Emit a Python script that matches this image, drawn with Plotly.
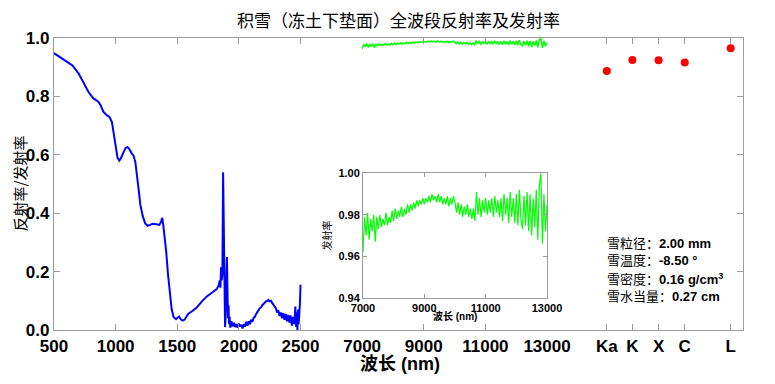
import plotly.graph_objects as go

# ---------------- data ----------------
vis_wl = [500, 550, 600, 650, 700, 740, 760, 770, 780, 820, 860, 880, 900, 930, 950, 970, 985,
          1000, 1015, 1030, 1045, 1060, 1080, 1095, 1110, 1130, 1145, 1160, 1175, 1190, 1200,
          1220, 1240, 1260, 1280, 1300, 1330, 1355, 1370, 1378, 1386, 1395, 1410, 1425, 1440,
          1455, 1470, 1490, 1505, 1515, 1530, 1545, 1560, 1575, 1590, 1620, 1660, 1700, 1740,
          1770, 1800, 1820, 1835, 1845, 1850, 1855, 1860, 1866, 1872, 1878, 1883, 1888, 1893,
          1898, 1903, 1908, 1912, 1916, 1920, 1925, 1930, 1940, 1950, 1960, 1970, 1980, 1990,
          2000, 2010, 2020, 2030, 2040, 2050, 2060, 2070, 2080, 2090, 2100, 2110, 2120, 2130,
          2140, 2150, 2160, 2170, 2180, 2190, 2200, 2210, 2220, 2230, 2240, 2250, 2260, 2270,
          2280, 2290, 2300, 2310, 2320, 2330, 2340, 2350, 2360, 2370, 2380, 2390, 2400, 2410,
          2420, 2430, 2440, 2450, 2458, 2465, 2470, 2475, 2480, 2485, 2490, 2495, 2500]
vis_refl = [0.948, 0.935, 0.922, 0.906, 0.878, 0.845, 0.826, 0.820, 0.815, 0.793, 0.782, 0.768,
            0.748, 0.735, 0.730, 0.712, 0.670, 0.620, 0.590, 0.580, 0.590, 0.605, 0.623, 0.627,
            0.620, 0.605, 0.598, 0.575, 0.530, 0.470, 0.430, 0.390, 0.365, 0.357, 0.360, 0.364,
            0.362, 0.360, 0.372, 0.384, 0.362, 0.330, 0.270, 0.190, 0.118, 0.070, 0.045, 0.037,
            0.043, 0.046, 0.036, 0.032, 0.036, 0.048, 0.056, 0.064, 0.078, 0.098, 0.115, 0.124,
            0.133, 0.140, 0.152, 0.170, 0.145, 0.215, 0.170, 0.190, 0.540, 0.300, 0.040, 0.010,
            0.050, 0.120, 0.250, 0.120, 0.040, 0.085, 0.020, 0.045, 0.008, 0.030, 0.012, 0.025,
            0.010, 0.020, 0.008, 0.022, 0.012, 0.018, 0.005, 0.020, 0.012, 0.028, 0.015, 0.030,
            0.020, 0.035, 0.028, 0.042, 0.045, 0.055, 0.060, 0.068, 0.075, 0.078, 0.085, 0.090,
            0.092, 0.098, 0.100, 0.103, 0.098, 0.100, 0.093, 0.088, 0.080, 0.075, 0.060, 0.068,
            0.048, 0.060, 0.040, 0.058, 0.035, 0.055, 0.030, 0.052, 0.025, 0.050, 0.015, 0.045,
            0.020, 0.080, 0.010, 0.060, 0.000, 0.070, 0.020, 0.050, 0.090, 0.155]

tir_wl = list(range(7000, 13001, 50))
tir_emis = [0.962, 0.979, 0.970, 0.981, 0.968, 0.978, 0.972, 0.980, 0.967, 0.979, 0.973,
            0.980, 0.974, 0.978, 0.975, 0.981, 0.975, 0.979, 0.976, 0.982, 0.977,
            0.983, 0.978, 0.982, 0.979, 0.984, 0.979, 0.983, 0.980, 0.985, 0.981,
            0.985, 0.982, 0.986, 0.983, 0.987, 0.984, 0.987, 0.985, 0.988, 0.985,
            0.988, 0.986, 0.989, 0.986, 0.990, 0.987, 0.989, 0.986, 0.990, 0.986,
            0.989, 0.985, 0.988, 0.985, 0.989, 0.984, 0.988, 0.985, 0.989, 0.986,
            0.981, 0.986, 0.980, 0.985, 0.979, 0.984, 0.980, 0.985, 0.979, 0.983,
            0.978, 0.983, 0.977, 0.991, 0.980, 0.988, 0.979, 0.987, 0.981, 0.988,
            0.980, 0.987, 0.981, 0.988, 0.979, 0.989, 0.981, 0.987, 0.979, 0.988,
            0.977, 0.990, 0.980, 0.988, 0.976, 0.991, 0.979, 0.988, 0.976, 0.990,
            0.975, 0.992, 0.978, 0.973, 0.989, 0.975, 0.991, 0.972, 0.990, 0.970,
            0.988, 0.974, 0.992, 0.968, 0.994, 1.000, 0.966, 0.990, 0.972, 0.985]

mw_bands = ["Ka", "K", "X", "C", "L"]
mw_emis = [0.887, 0.925, 0.924, 0.916, 0.965]

vis_ticks = [500, 1000, 1500, 2000, 2500]
tir_ticks = [7000, 9000, 11000, 13000]
y_ticks = [0.0, 0.2, 0.4, 0.6, 0.8, 1.0]
inset_yticks = [0.94, 0.96, 0.98, 1.00]

snow_info = ["雪粒径：<b>2.00 mm</b>", "雪温度：<b>-8.50 °</b>",
             "雪密度：<b>0.16 g/cm<sup>3</sup></b>", "雪水当量：<b>0.27 cm</b>"]

# ---------------- layout geometry ----------------
mw_pos = [8.97, 9.385, 9.81, 10.235, 10.98]   # axis positions of the microwave bands
total_units = 11.18
d1 = 5 / total_units
d2 = 8 / total_units

# page body adds an 8px offset; margins compensate so the frame lands at 54..743 x 38..330
OFF = 8
PL, PR, PT, PB = 54, 743, 38, 330
PW, PH = PR - PL, PB - PT


def px(x):
    return (x - PL) / PW


def py(y):
    return (PB - y) / PH


GRAY = "#9c9c9c"
tickfont_main = dict(family="Liberation Sans, Arial", size=17, color="black", weight="bold")
tickfont_inset = dict(family="Liberation Sans, Arial", size=11, color="black", weight="bold")

fig = go.Figure()
fig.add_trace(go.Scatter(x=vis_wl, y=vis_refl, mode="lines", xaxis="x", yaxis="y",
                         line=dict(color="#0000ff", width=2), showlegend=False))
fig.add_trace(go.Scatter(x=tir_wl, y=tir_emis, mode="lines", xaxis="x2", yaxis="y",
                         line=dict(color="#00ff00", width=1.5), showlegend=False))
fig.add_trace(go.Scatter(x=mw_pos, y=mw_emis, mode="markers", xaxis="x3", yaxis="y",
                         marker=dict(color="#ff0000", size=8), showlegend=False))
fig.add_trace(go.Scatter(x=[None], y=[None], xaxis="x3", yaxis="y2", showlegend=False))
fig.add_trace(go.Scatter(x=tir_wl, y=tir_emis, mode="lines", xaxis="x4", yaxis="y3",
                         line=dict(color="#00ff00", width=1.2), showlegend=False))

common_x = dict(showgrid=False, zeroline=False, showline=True, linecolor=GRAY, linewidth=1.2,
                ticks="inside", ticklen=6, tickcolor=GRAY, mirror="ticks", automargin=False,
                tickfont=tickfont_main, anchor="y")

fig.update_layout(
    width=775, height=384,
    margin=dict(l=PL - OFF, r=775 + OFF - PR, t=PT - OFF, b=384 + OFF - PB),
    paper_bgcolor="white", plot_bgcolor="white",
    title=dict(text="积雪（冻土下垫面）全波段反射率及发射率", x=0.5, xref="paper",
               y=1 - (21 - OFF) / 384, yanchor="middle", automargin=False,
               font=dict(family="Noto Sans CJK SC", size=17, color="black")),
    xaxis=dict(domain=[0, d1], range=[500, 3000], tickvals=vis_ticks,
               ticktext=[str(t) for t in vis_ticks], **common_x),
    xaxis2=dict(domain=[d1, d2], range=[7000, 13000], tickvals=tir_ticks,
                ticktext=[str(t) for t in tir_ticks], **common_x),
    xaxis3=dict(domain=[d2, 1], range=[8, total_units], tickvals=mw_pos, ticktext=mw_bands,
                **common_x),
    yaxis=dict(range=[0, 1], tickvals=y_ticks, tickformat=".1f", anchor="x", automargin=False,
               showgrid=False, zeroline=False, showline=True, linecolor=GRAY, linewidth=1.2,
               ticks="inside", ticklen=6, tickcolor=GRAY, tickfont=tickfont_main),
    yaxis2=dict(range=[0, 1], tickvals=y_ticks, anchor="x3", side="right", overlaying="y",
                showticklabels=False, showgrid=False, zeroline=False, showline=True,
                automargin=False,
                linecolor=GRAY, linewidth=1.2, ticks="inside", ticklen=6, tickcolor=GRAY),
    xaxis4=dict(domain=[px(363), px(547)], range=[7000, 13000],
                tickvals=tir_ticks, ticktext=[str(t) for t in tir_ticks], anchor="y3",
                showgrid=False, zeroline=False, automargin=False,
                showline=True, linecolor=GRAY, linewidth=1, mirror="ticks", ticks="inside",
                ticklen=4, tickcolor=GRAY, tickfont=tickfont_inset),
    yaxis3=dict(domain=[py(297.7), py(173.3)], range=[0.94, 1.0],
                tickvals=inset_yticks, tickformat=".2f", anchor="x4", showgrid=False,
                zeroline=False, showline=True, linecolor=GRAY, linewidth=1, mirror="ticks",
                automargin=False,
                ticks="inside", ticklen=4, tickcolor=GRAY, tickfont=tickfont_inset,
                title=dict(text="发射率", standoff=4,
                           font=dict(family="Noto Sans CJK SC", size=10, color="black"))),
)

# main y-axis title
fig.add_annotation(text="反射率/发射率", xref="paper", yref="paper",
                   x=px(18.5), y=py(184), showarrow=False, textangle=-90,
                   xanchor="center", yanchor="middle", borderpad=0,
                   font=dict(family="Noto Sans CJK SC", size=15, color="black"))

# x-axis title spanning the whole frame
fig.add_annotation(text="<b>波长 (nm)</b>", xref="paper", yref="paper",
                   x=px(400), y=py(364), showarrow=False,
                   xanchor="center", yanchor="middle",
                   font=dict(family="Liberation Sans, Noto Sans CJK SC", size=18, color="black"))

# inset x-axis title
fig.add_annotation(text="<b>波长 (nm)</b>", xref="paper", yref="paper",
                   x=px(455), y=py(316), showarrow=False,
                   xanchor="center", yanchor="middle",
                   font=dict(family="Liberation Sans, Noto Sans CJK SC", size=10, color="black"))

info_y = [243, 260, 279, 296]
for txt, yy in zip(snow_info, info_y):
    fig.add_annotation(text=txt, xref="paper", yref="paper",
                       x=px(605), y=py(yy), showarrow=False,
                       xanchor="left", yanchor="middle",
                       font=dict(family="Liberation Sans, Noto Sans CJK SC", size=13,
                                 color="black"))

fig.write_html("out.html")
